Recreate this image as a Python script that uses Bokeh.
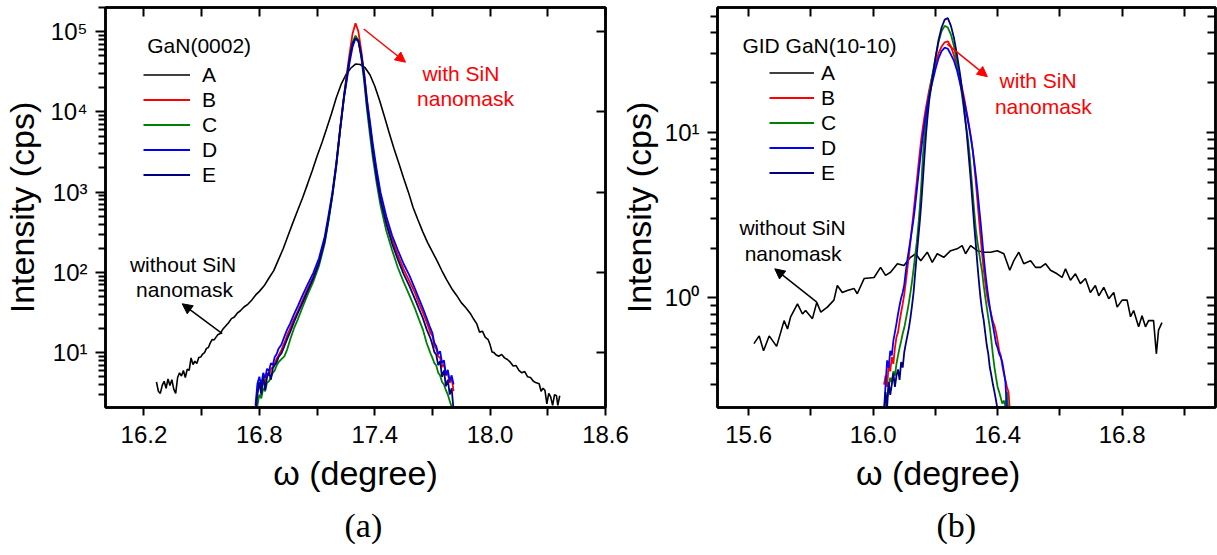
from bokeh.plotting import figure
from bokeh.models import (Range1d, LinearAxis, LogAxis, FixedTicker, NumeralTickFormatter,
                          Legend, LegendItem, Label, Arrow, NormalHead, Title)
from bokeh.layouts import row
from bokeh.embed import file_html
from bokeh.resources import INLINE

SANS = "Liberation Sans"
SERIF = "Liberation Serif"

# ---------------- (a) GaN(0002) rocking curves ----------------
omega_a_A = [16.265, 16.275, 16.285, 16.295, 16.305, 16.315, 16.325, 16.335, 16.345, 16.355,
             16.365, 16.375, 16.385, 16.395, 16.405, 16.415, 16.425, 16.435, 16.445, 16.455,
             16.465, 16.475, 16.485, 16.495, 16.505, 16.515, 16.525, 16.535, 16.545, 16.555,
             16.565, 16.575, 16.585, 16.595, 16.610, 16.625, 16.640, 16.655, 16.670, 16.685,
             16.700, 16.720, 16.740, 16.760, 16.780, 16.800, 16.825, 16.850, 16.875, 16.900,
             16.925, 16.950, 16.975, 17.000, 17.025, 17.050, 17.075, 17.100, 17.125, 17.150,
             17.175, 17.200, 17.225, 17.250, 17.275, 17.300, 17.325, 17.350, 17.375, 17.400,
             17.425, 17.450, 17.475, 17.500, 17.525, 17.550, 17.575, 17.600, 17.625, 17.650,
             17.675, 17.700, 17.725, 17.750, 17.775, 17.800, 17.825, 17.850, 17.875, 17.900,
             17.915, 17.930, 17.945, 17.960, 17.975, 17.990, 18.000, 18.010, 18.020, 18.030,
             18.045, 18.060, 18.075, 18.090, 18.105, 18.120, 18.135, 18.150, 18.165, 18.180,
             18.195, 18.210, 18.225, 18.240, 18.255, 18.265, 18.275, 18.285, 18.295, 18.305,
             18.315, 18.325, 18.335, 18.345, 18.352, 18.362]
cps_a_A = [4.3, 3.3, 3.1, 3.9, 4.4, 3.6, 4.7, 3.9, 4.6, 3.5,
           3.1, 4.9, 5.6, 5.1, 6.0, 4.9, 6.2, 6.0, 8.6, 7.1,
           7.8, 7.3, 8.7, 8.8, 9.6, 10.0, 11.3, 11.6, 13.2, 14.6,
           14.4, 15.6, 16.8, 17.2, 19.5, 21.5, 23.6, 26.5, 27.8, 31,
           33, 37, 40, 45, 52, 58, 68, 85, 105, 145,
           200, 290, 420, 600, 850, 1250, 1850, 2800, 4100, 6200,
           9500, 15000, 22000, 29000, 35000, 39500, 39000, 35500, 29000, 21000,
           14000, 8800, 5500, 3500, 2300, 1500, 1000, 640, 450, 320,
           235, 180, 138, 104, 80, 63, 52, 42, 36, 30,
           26, 23, 18, 18.5, 15.5, 14.5, 12.5, 10.2, 10.0, 9.4,
           9.0, 9.5, 8.6, 8.2, 7.6, 6.8, 6.9, 6.0, 5.6, 5.8,
           5.0, 4.9, 4.4, 4.2, 4.1, 3.3, 3.6, 3.4, 2.3, 3.1,
           2.8, 2.2, 3.0, 2.9, 2.2, 2.9]

omega_a_narrow = [16.780, 16.790, 16.800, 16.810, 16.820, 16.830, 16.840, 16.850, 16.860, 16.870,
                  16.880, 16.890, 16.900, 16.915, 16.930, 16.945, 16.960, 16.980, 17.000, 17.025,
                  17.050, 17.080, 17.110, 17.140, 17.160, 17.180, 17.200, 17.220, 17.240, 17.255,
                  17.270, 17.285, 17.300, 17.315, 17.330, 17.345, 17.360, 17.375, 17.390, 17.410,
                  17.430, 17.460, 17.490, 17.520, 17.550, 17.580, 17.610, 17.630, 17.650, 17.670,
                  17.690, 17.700, 17.710, 17.720, 17.730, 17.740, 17.750, 17.760, 17.770, 17.780,
                  17.790, 17.800, 17.810]
cps_a_B = [2.0, 3.4, 4.2, 3.6, 4.9, 4.1, 5.5, 5.2, 6.3, 6.6,
           7.4, 8.4, 9.2, 10.8, 13.2, 16.5, 20, 26, 33, 45,
           62, 88, 135, 250, 470, 950, 2200, 6000, 16000, 30000,
           55000, 95000, 127000, 100000, 58000, 30000, 13500, 7000, 3600, 1700,
           900, 450, 260, 165, 110, 78, 55, 41, 32, 24,
           17.5, 16.2, 12.0, 11.2, 9.0, 8.6, 6.6, 7.2, 5.2, 5.5,
           4.2, 4.8, 3.3]
cps_a_C = [1.5, 2.2, 3.0, 2.7, 3.6, 3.3, 4.2, 4.4, 4.9, 5.6,
           6.0, 6.9, 7.6, 8.3, 9.0, 11.0, 14.5, 20, 26, 37,
           52, 76, 120, 230, 440, 900, 2100, 5800, 15000, 27000,
           47000, 74000, 89000, 78000, 48000, 24000, 10500, 5200, 2700, 1300,
           680, 330, 190, 115, 76, 52, 35, 26, 19.5, 13.2,
           9.8, 8.6, 7.4, 6.9, 5.6, 5.2, 4.3, 4.0, 3.4, 3.0,
           2.5, 2.1, 1.8]
cps_a_D = [2.2, 4.1, 5.0, 3.9, 5.6, 4.8, 6.3, 5.9, 7.4, 7.0,
           8.8, 9.6, 11.2, 12.6, 15.8, 19.5, 23, 30, 38, 52,
           70, 98, 150, 280, 520, 1000, 2300, 6200, 15000, 25000,
           42000, 65000, 82000, 76000, 52000, 30000, 14000, 7600, 4000, 1900,
           1000, 500, 290, 190, 128, 92, 62, 47, 36, 27,
           20, 17.5, 13.2, 12.0, 9.6, 10.4, 7.4, 8.0, 5.3, 6.1,
           4.4, 5.2, 4.0]
cps_a_E = [1.8, 3.0, 4.3, 3.0, 5.1, 3.4, 4.9, 5.8, 4.6, 6.4,
           7.0, 7.6, 8.8, 9.8, 12.0, 14.8, 18, 24, 31, 42,
           58, 84, 130, 245, 460, 930, 2150, 6000, 15500, 28000,
           48000, 72000, 83000, 77000, 50000, 27000, 12000, 6200, 3200, 1500,
           800, 400, 230, 145, 96, 68, 46, 35, 27, 19.5,
           15.0, 12.5, 10.2, 9.4, 7.0, 7.8, 5.0, 6.0, 3.8, 4.6,
           3.0, 3.6, 1.9]

# ---------------- (b) GID GaN(10-10) rocking curves ----------------
omega_b_A = [15.617, 15.634, 15.648, 15.666, 15.690, 15.714, 15.725, 15.735, 15.757, 15.773,
             15.783, 15.805, 15.819, 15.832, 15.853, 15.874, 15.885, 15.901, 15.917, 15.939,
             15.949, 15.971, 16.003, 16.024, 16.040, 16.056, 16.078, 16.099, 16.120, 16.137,
             16.153, 16.174, 16.190, 16.206, 16.227, 16.249, 16.270, 16.286, 16.297, 16.313,
             16.335, 16.356, 16.377, 16.399, 16.420, 16.439, 16.452, 16.468, 16.484, 16.506,
             16.522, 16.538, 16.554, 16.570, 16.591, 16.607, 16.618, 16.634, 16.650, 16.666,
             16.682, 16.698, 16.714, 16.725, 16.741, 16.757, 16.773, 16.784, 16.800, 16.816,
             16.827, 16.837, 16.853, 16.864, 16.875, 16.885, 16.901, 16.910, 16.917, 16.928]
cps_b_A = [0.53, 0.59, 0.48, 0.59, 0.51, 0.73, 0.65, 0.77, 0.92, 0.80,
           0.84, 0.75, 0.94, 0.82, 0.88, 0.97, 1.19, 1.08, 1.11, 1.14,
           1.06, 1.31, 1.33, 1.53, 1.37, 1.43, 1.61, 1.57, 1.76, 1.85,
           1.68, 1.89, 1.64, 1.85, 1.76, 1.93, 1.98, 2.07, 1.85, 2.07,
           1.93, 1.89, 1.89, 1.93, 1.85, 1.47, 1.68, 1.89, 1.61, 1.68,
           1.53, 1.53, 1.61, 1.47, 1.40, 1.33, 1.50, 1.28, 1.40, 1.22,
           1.31, 1.08, 1.19, 1.03, 1.16, 0.99, 1.08, 0.88, 0.97, 0.97,
           0.77, 0.84, 0.67, 0.78, 0.67, 0.73, 0.73, 0.46, 0.64, 0.71]

omega_b_narrow = [16.035, 16.040, 16.045, 16.050, 16.055, 16.060, 16.065, 16.070, 16.075, 16.080,
                  16.085, 16.090, 16.095, 16.100, 16.105, 16.110, 16.115, 16.120, 16.125, 16.130,
                  16.135, 16.140, 16.145, 16.150, 16.155, 16.160, 16.165, 16.170, 16.175, 16.180,
                  16.190, 16.200, 16.210, 16.220, 16.230, 16.240, 16.250, 16.260, 16.270, 16.280,
                  16.290, 16.295, 16.300, 16.305, 16.310, 16.315, 16.320, 16.325, 16.330, 16.335,
                  16.340, 16.345, 16.350, 16.355, 16.360, 16.365, 16.370, 16.375, 16.380, 16.385,
                  16.390, 16.395, 16.400, 16.405, 16.410, 16.415, 16.420, 16.425, 16.430, 16.435,
                  16.440]
cps_b_B = [0.30, 0.34, 0.29, 0.40, 0.36, 0.44, 0.40, 0.50, 0.58, 0.62,
           0.72, 0.82, 0.92, 1.05, 1.25, 1.50, 1.80, 2.2, 2.7, 3.3,
           4.1, 5.0, 6.2, 7.6, 9.2, 10.8, 12.5, 14.2, 16.0, 18.0,
           22, 26, 30, 33, 35, 35.5, 33, 29, 25, 21,
           17, 15.2, 13.5, 12.0, 10.5, 9.2, 7.8, 6.3, 5.0, 3.9,
           3.0, 2.35, 1.85, 1.5, 1.25, 1.06, 0.94, 0.86, 0.79, 0.72,
           0.68, 0.62, 0.55, 0.48, 0.45, 0.39, 0.35, 0.32, 0.29, 0.27,
           0.20]
cps_b_C = [0.18, 0.21, 0.25, 0.29, 0.33, 0.31, 0.36, 0.34, 0.40, 0.45,
           0.50, 0.55, 0.61, 0.66, 0.74, 0.83, 0.94, 1.08, 1.26, 1.50,
           1.80, 2.15, 2.7, 3.5, 4.9, 7.2, 9.6, 12.0, 14.5, 17.0,
           22, 28, 35, 41, 44, 43, 39, 33, 26, 20,
           14.5, 12.3, 10.5, 9.0, 7.3, 5.6, 4.3, 3.3, 2.6, 2.2,
           1.9, 1.65, 1.45, 1.2, 1.02, 0.88, 0.76, 0.66, 0.55, 0.45,
           0.38, 0.33, 0.29, 0.27, 0.25, 0.23, 0.24, 0.22, 0.27, 0.20,
           0.18]
cps_b_D = [0.21, 0.30, 0.42, 0.38, 0.48, 0.45, 0.55, 0.62, 0.70, 0.80,
           0.90, 1.0, 1.08, 1.20, 1.45, 1.70, 1.95, 2.25, 2.6, 3.0,
           3.6, 4.4, 5.4, 6.6, 8.0, 9.6, 11.2, 13.0, 14.8, 16.6,
           20, 24, 28, 31, 32.5, 32, 29.5, 27, 23.5, 19.5,
           16.2, 14.6, 13.0, 11.6, 10.3, 9.0, 7.8, 6.6, 5.5, 4.5,
           3.6, 2.9, 2.3, 1.8, 1.45, 1.2, 1.02, 0.88, 0.76, 0.68,
           0.60, 0.53, 0.50, 0.46, 0.44, 0.41, 0.36, 0.31, 0.21, 0.18,
           0.16]
cps_b_E = [0.20, 0.27, 0.22, 0.31, 0.26, 0.30, 0.35, 0.29, 0.34, 0.37,
           0.32, 0.41, 0.38, 0.47, 0.53, 0.59, 0.66, 0.76, 0.90, 1.08,
           1.40, 1.80, 2.3, 2.9, 3.8, 5.2, 7.2, 9.8, 12.5, 15.5,
           21, 28, 36, 43, 48, 49, 44, 37, 29, 22,
           15.5, 12.5, 10.2, 8.0, 6.2, 4.8, 3.6, 2.7, 2.1, 1.6,
           1.25, 1.0, 0.84, 0.74, 0.62, 0.52, 0.46, 0.38, 0.34, 0.30,
           0.27, 0.24, 0.21, 0.19, 0.18, 0.17, 0.16, 0.16, 0.15, 0.15,
           0.15]

sample_names = ["A", "B", "C", "D", "E"]
sample_colors = ["#000000", "#ff0000", "#008000", "#0000ff", "#000080"]

# axis ticks
a_xticks = [16.2, 16.8, 17.4, 18.0, 18.6]
a_xminor = [16.5, 17.1, 17.7, 18.3]
a_yticks = [10, 100, 1000, 10000, 100000]
a_ylabels = ["10\u00b9", "10\u00b2", "10\u00b3", "10\u2074", "10\u2075"]
b_xticks = [15.6, 16.0, 16.4, 16.8]
b_xminor = [15.8, 16.2, 16.6, 17.0]
b_yticks = [1, 10]
b_ylabels = ["10\u2070", "10\u00b9"]


def log_minors(lo_exp, hi_exp):
    out = []
    for e in range(lo_exp, hi_exp + 1):
        for m in range(2, 10):
            out.append(m * 10.0 ** e)
    return out


def mirror_axis(ax, ticks):
    # inward ticks only; the tick texts are blanked out
    ax.axis_line_width = 2.5
    ax.major_tick_line_width = 2
    ax.minor_tick_line_width = 2
    ax.major_tick_in = 9
    ax.major_tick_out = 0
    ax.minor_tick_in = 8
    ax.minor_tick_out = 0
    ax.major_label_text_font_size = "1px"
    ax.major_label_standoff = 0
    ax.major_label_overrides = {t: "" for t in ticks}


def build_panel(width, x_range, y_range, border_left, border_right,
                xticks, xminor, yticks, ylabels, yminor, right_minor,
                ylabel_standoff, xlabel):
    p = figure(width=width, height=555, x_range=x_range, y_range=y_range,
               y_axis_type="log", output_backend="svg", toolbar_location=None,
               min_border_left=border_left, min_border_right=border_right,
               min_border_top=7, min_border_bottom=148)
    p.background_fill_color = "white"
    p.border_fill_color = "white"
    p.outline_line_color = "black"
    p.outline_line_width = 2.5
    p.xgrid.visible = False
    p.ygrid.visible = False

    xa = p.xaxis[0]
    xa.ticker = FixedTicker(ticks=xticks, minor_ticks=xminor)
    xa.formatter = NumeralTickFormatter(format="0.0")
    ya = p.yaxis[0]
    ya.ticker = FixedTicker(ticks=yticks, minor_ticks=yminor)
    ya.major_label_overrides = {int(t): s for t, s in zip(yticks, ylabels)}
    for ax, out_major, out_minor in ((xa, 8, 8), (ya, 10, 7)):
        ax.axis_line_width = 2.5
        ax.major_tick_line_width = 2
        ax.minor_tick_line_width = 2
        ax.major_tick_in = 0
        ax.minor_tick_in = 0
        ax.major_tick_out = out_major
        ax.minor_tick_out = out_minor
        ax.major_label_text_font = SANS
        ax.major_label_text_font_size = "24px"
        ax.major_label_text_color = "black"
        ax.axis_label_text_font = SANS
        ax.axis_label_text_font_size = "34px"
        ax.axis_label_text_font_style = "normal"
        ax.axis_label_text_color = "black"
    xa.major_label_standoff = 10
    ya.major_label_standoff = 8
    xa.axis_label = xlabel
    xa.axis_label_standoff = 8
    ya.axis_label = "Intensity (cps)"
    ya.axis_label_standoff = ylabel_standoff

    top_ticks = sorted(xticks + xminor)
    top = LinearAxis(ticker=FixedTicker(ticks=top_ticks, minor_ticks=[]))
    mirror_axis(top, top_ticks)
    rt = LogAxis(ticker=FixedTicker(ticks=yticks, minor_ticks=yminor if right_minor else []))
    mirror_axis(rt, [int(t) for t in yticks])
    p.add_layout(top, "above")
    p.add_layout(rt, "right")
    return p


def add_curves(p, omega_broad, cps_broad, omega_narrow, narrow_sets, glyph_w, standoff, loc):
    items = []
    r = p.line(omega_broad, cps_broad, line_color=sample_colors[0], line_width=1.6)
    items.append(LegendItem(label=sample_names[0], renderers=[r]))
    for name, color, ys in zip(sample_names[1:], sample_colors[1:], narrow_sets):
        r = p.line(omega_narrow, ys, line_color=color, line_width=1.8)
        items.append(LegendItem(label=name, renderers=[r]))
    leg = Legend(items=items, location=loc, padding=0, margin=0, spacing=0,
                 glyph_width=glyph_w, glyph_height=25, label_height=25,
                 label_standoff=standoff, label_text_font=SANS,
                 label_text_font_size="21px", label_text_color="black",
                 border_line_color=None, background_fill_alpha=0)
    p.add_layout(leg)


def text(p, x, y, s, color="black", align="center"):
    p.add_layout(Label(x=x, y=y, text=s, text_color=color, text_font=SANS,
                       text_font_size="21px", text_align=align, text_baseline="middle"))


def arrow(p, x0, y0, x1, y1, color):
    p.add_layout(Arrow(end=NormalHead(size=10, fill_color=color, line_color=color, line_width=1),
                       x_start=x0, y_start=y0, x_end=x1, y_end=y1,
                       line_color=color, line_width=1.5))


def caption(p, s, offset):
    p.add_layout(Title(text=s, align="left", offset=offset, text_font=SERIF,
                       text_font_size="34px", text_font_style="normal",
                       text_color="black", standoff=20), "below")


# ---- panel (a)
pa = build_panel(660, Range1d(16.0, 18.6), Range1d(2.07, 2.0e5), 105, 55,
                 a_xticks, a_xminor, a_yticks, a_ylabels, log_minors(0, 5), False, 6,
                 "\u03c9 (degree)")
add_curves(pa, omega_a_A, cps_a_A, omega_a_narrow, [cps_a_B, cps_a_C, cps_a_D, cps_a_E],
           47, 12, (38, 220))
text(pa, 16.217, 6.7e4, "GaN(0002)", align="left")
text(pa, 17.848, 2.98e4, "with SiN", color="#ff0000")
text(pa, 17.872, 1.46e4, "nanomask", color="#ff0000")
arrow(pa, 17.343, 1.08e5, 17.56, 4.16e4, "#ff0000")
text(pa, 16.403, 124, "without SiN")
text(pa, 16.411, 60.7, "nanomask")
arrow(pa, 16.607, 17.2, 16.399, 40.6, "black")
caption(pa, "(a)", 239)

# ---- panel (b): its canvas slides under the right margin of panel (a);
# the x title sits a little left of the frame centre, padded with no-break spaces
pb = build_panel(617, Range1d(15.5, 17.1), Range1d(0.218, 56.8), 117, 2,
                 b_xticks, b_xminor, b_yticks, b_ylabels, log_minors(-1, 1), True, 4,
                 "\u03c9 (degree)" + "\u00a0" * 6)
pb.border_fill_alpha = 0
pb.margin = (0, 0, 0, -60)
add_curves(pb, omega_b_A, cps_b_A, omega_b_narrow, [cps_b_B, cps_b_C, cps_b_D, cps_b_E],
           45, 7, (52, 222))
text(pb, 15.580, 33.3, "GID GaN(10-10)", align="left")
text(pb, 16.530, 20.5, "with SiN", color="#ff0000")
text(pb, 16.547, 14.3, "nanomask", color="#ff0000")
arrow(pb, 16.238, 34.1, 16.367, 21.7, "#ff0000")
text(pb, 15.741, 2.65, "without SiN")
text(pb, 15.743, 1.85, "nanomask")
arrow(pb, 15.819, 0.943, 15.684, 1.50, "black")
caption(pb, "(b)", 219)

layout = row(pa, pb)
open("out.html", "w").write(file_html(layout, INLINE))
